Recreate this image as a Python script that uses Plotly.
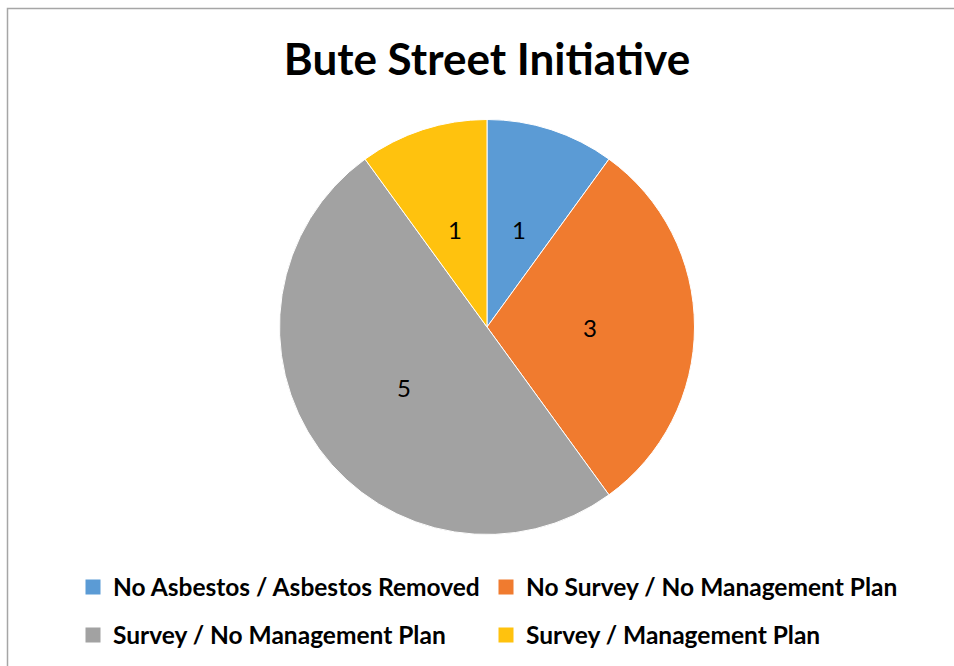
import math
import plotly.graph_objects as go

# Chart data
title_text = "Bute Street Initiative"
categories = [
    "No Asbestos / Asbestos Removed",
    "No Survey / No Management Plan",
    "Survey / No Management Plan",
    "Survey / Management Plan",
]
counts = [1, 3, 5, 1]
colors = ["#5B9BD5", "#F07B2F", "#A2A2A2", "#FFC20E"]

W, H = 954, 666
FONT = "Lato"

# pie geometry in pixels
CX, CY, R = 487, 327, 206


def px_x(v):
    return v / W


def px_y(v):
    # pixel offset from the top -> paper coordinate
    return 1 - v / H


fig = go.Figure()

fig.add_trace(go.Pie(
    labels=categories,
    values=counts,
    sort=False,
    direction="clockwise",
    rotation=0,
    marker=dict(colors=colors, line=dict(color="white", width=1)),
    textinfo="none",
    showlegend=False,
    hoverinfo="label+value",
    domain=dict(x=[px_x(CX - R - 1.5), px_x(CX + R + 1.5)],
                y=[px_y(CY + R + 1.5), px_y(CY - R - 1.5)]),
))

# Value labels placed at half radius along each slice's bisector
total = sum(counts)
annotations = []
cum = 0
for v in counts:
    mid = (cum + v / 2) / total * 2 * math.pi
    cum += v
    lx = CX + 0.5 * R * math.sin(mid)
    ly = CY - 0.5 * R * math.cos(mid)
    annotations.append(dict(
        x=px_x(lx), y=px_y(ly), xref="paper", yref="paper",
        text=str(v), showarrow=False, xanchor="center", yanchor="middle",
        font=dict(family=FONT, size=24, color="black"),
    ))

# Legend entries: two rows of two items each
legend_ids = ["legend", "legend", "legend2", "legend2"]
for name, col, lg in zip(categories, colors, legend_ids):
    fig.add_trace(go.Scatter(
        x=[None], y=[None], mode="markers", name=name,
        marker=dict(symbol="square", size=15, color=col),
        legend=lg, hoverinfo="skip",
    ))

legend_style = dict(
    orientation="h",
    xanchor="left",
    yanchor="middle",
    x=px_x(73),
    entrywidth=368,
    entrywidthmode="pixels",
    font=dict(family=FONT, size=24.5, color="black", weight="bold"),
    bgcolor="rgba(0,0,0,0)",
    itemclick=False,
    itemdoubleclick=False,
)

fig.update_layout(
    width=W,
    height=H,
    margin=dict(l=0, r=0, t=0, b=0),
    paper_bgcolor="white",
    plot_bgcolor="white",
    xaxis=dict(visible=False),
    yaxis=dict(visible=False),
    title=dict(
        text=title_text,
        x=px_x(487), xanchor="center", xref="paper",
        y=px_y(60), yanchor="middle", yref="container",
        font=dict(family=FONT, size=44, color="black", weight="bold"),
    ),
    legend=dict(legend_style, y=px_y(587)),
    legend2=dict(legend_style, y=px_y(635)),
    annotations=annotations,
    shapes=[
        dict(
            type="rect", xref="paper", yref="paper",
            x0=px_x(7.5), x1=1.05, y0=-0.05, y1=px_y(8.5),
            line=dict(color="#A6A6A6", width=1.5),
            fillcolor="rgba(0,0,0,0)", layer="above",
        )
    ],
)

fig.write_html("out.html")
